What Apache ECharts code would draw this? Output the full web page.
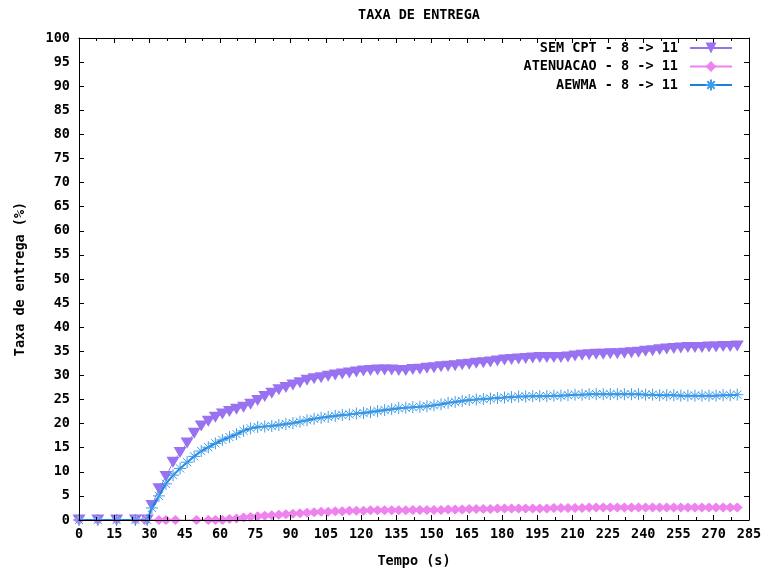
<!DOCTYPE html>
<html>
<head>
<meta charset="utf-8">
<title>TAXA DE ENTREGA</title>
<script src="https://cdn.jsdelivr.net/npm/echarts@6/dist/echarts.min.js"></script>
<style>
  html, body { margin: 0; padding: 0; background: #fff; }
  #chart { width: 765px; height: 570px; }
</style>
</head>
<body>
<div id="chart"></div>
<script>
// Sample times (s) for SEM CPT and AEWMA
const timesMain = [0, 8, 16, 24, 29,
  31, 34, 37, 40, 43, 46, 49, 52, 55, 58, 61, 64, 67, 70, 73, 76, 79, 82, 85, 88,
  91, 94, 97, 100, 103, 106, 109, 112, 115, 118, 121, 124, 127, 130, 133, 136, 139, 142, 145, 148,
  151, 154, 157, 160, 163, 166, 169, 172, 175, 178, 181, 184, 187, 190, 193, 196, 199, 202, 205, 208,
  211, 214, 217, 220, 223, 226, 229, 232, 235, 238, 241, 244, 247, 250, 253, 256, 259, 262, 265, 268,
  271, 274, 277, 280];

// Delivery rate (%) without CPT
const semCpt = [0, 0, 0, 0, 0,
  3, 6.5, 9, 12, 14, 16, 18, 19.5, 20.5, 21.3, 22, 22.5, 23, 23.4, 24, 24.8, 25.6, 26.3, 27, 27.5,
  28, 28.5, 29, 29.3, 29.5, 29.8, 30.1, 30.3, 30.5, 30.7, 30.9, 31, 31.1, 31.1, 31.1, 31, 31, 31.2, 31.3, 31.5,
  31.6, 31.8, 31.9, 32, 32.2, 32.3, 32.5, 32.6, 32.8, 33, 33.2, 33.3, 33.4, 33.5, 33.6, 33.7, 33.7, 33.7, 33.7, 33.8,
  34, 34.2, 34.3, 34.4, 34.4, 34.5, 34.5, 34.6, 34.7, 34.8, 35, 35.1, 35.3, 35.5, 35.6, 35.7, 35.8, 35.8, 35.8, 35.9,
  35.9, 36, 36, 36.1];

// Delivery rate (%) with AEWMA
const aewma = [0, 0, 0, 0, 0,
  2.5, 5, 7.5, 9.3, 10.7, 12, 13.2, 14.3, 15.1, 15.9, 16.6, 17.2, 17.8, 18.5, 19, 19.3, 19.4, 19.5, 19.7, 19.9,
  20.1, 20.4, 20.7, 21, 21.2, 21.4, 21.6, 21.8, 21.9, 22.1, 22.2, 22.4, 22.6, 22.8, 23, 23.2, 23.3, 23.4, 23.5, 23.6,
  23.8, 24, 24.3, 24.5, 24.7, 24.9, 25, 25.1, 25.2, 25.3, 25.4, 25.5, 25.6, 25.6, 25.7, 25.7, 25.7, 25.8, 25.8, 25.9,
  26, 26, 26.1, 26.1, 26.1, 26.1, 26.1, 26.1, 26.1, 26.1, 26, 26, 25.9, 25.9, 25.9, 25.8, 25.8, 25.8, 25.8, 25.8,
  25.8, 25.9, 25.9, 26];

// Sample times (s) for ATENUACAO
const timesAten = [0, 8, 16, 24, 28, 34, 37, 41, 50, 55, 58,
  61, 64, 67, 70, 73, 76, 79, 82, 85, 88, 91, 94, 97, 100, 103, 106, 109, 112, 115, 118,
  121, 124, 127, 130, 133, 136, 139, 142, 145, 148, 151, 154, 157, 160, 163, 166, 169, 172, 175, 178,
  181, 184, 187, 190, 193, 196, 199, 202, 205, 208, 211, 214, 217, 220, 223, 226, 229, 232, 235, 238,
  241, 244, 247, 250, 253, 256, 259, 262, 265, 268, 271, 274, 277, 280];

// Delivery rate (%) with attenuation
const atenuacao = [0, 0, 0, 0, 0, 0, 0, 0, 0, 0, 0,
  0, 0.2, 0.3, 0.5, 0.6, 0.8, 0.9, 1.0, 1.1, 1.2, 1.3, 1.4, 1.5, 1.6, 1.7, 1.7, 1.8, 1.8, 1.9, 1.9,
  1.9, 2.0, 2.0, 2.0, 2.0, 2.0, 2.0, 2.1, 2.1, 2.1, 2.1, 2.1, 2.2, 2.2, 2.2, 2.3, 2.3, 2.3, 2.3, 2.4,
  2.4, 2.4, 2.4, 2.4, 2.4, 2.4, 2.4, 2.5, 2.5, 2.5, 2.5, 2.5, 2.6, 2.6, 2.6, 2.6, 2.6, 2.6, 2.6, 2.6,
  2.6, 2.6, 2.6, 2.6, 2.6, 2.6, 2.6, 2.6, 2.6, 2.6, 2.6, 2.6, 2.6, 2.6];

const seriesNames = ['SEM CPT - 8 -> 11', 'ATENUACAO - 8 -> 11', 'AEWMA - 8 -> 11'];
const xTicks = { min: 0, max: 285, step: 15 };
const yTicks = { min: 0, max: 100, step: 5 };

const pairs = (xs, ys) => xs.map((x, i) => [x, ys[i]]);

const FONT = 'DejaVu Sans Mono';
const labelStyle = { fontFamily: FONT, fontWeight: 'bold', fontSize: 13.5, color: '#000' };

const PURPLE = '#9872f0';
const PINK = '#ee82ee';
const BLUE = '#1c7fe0';
const STAR = 'path://M5 0 L5 10 M0 5 L10 5 M1.6 1.6 L8.4 8.4 M1.6 8.4 L8.4 1.6';

const chart = echarts.init(document.getElementById('chart'), null, { renderer: 'canvas' });

const axisCommon = {
  axisLine: { show: true, onZero: false, lineStyle: { color: '#000', width: 1 } },
  axisTick: { show: true, inside: true, length: 5, lineStyle: { color: '#000' } },
  splitLine: { show: false }
};

chart.setOption({
  animation: false,
  backgroundColor: '#fff',
  title: {
    text: 'TAXA DE ENTREGA',
    left: 414, top: 3, textAlign: 'center',
    textStyle: labelStyle
  },
  grid: { left: 79, right: 16, top: 38, bottom: 50, containLabel: false, outerBoundsMode: 'none' },
  legend: {
    orient: 'vertical',
    right: 27, top: 36,
    itemGap: 4.5,
    itemWidth: 42, itemHeight: 13.5,
    align: 'right',
    data: seriesNames,
    textStyle: Object.assign({}, labelStyle, { width: 180, align: 'right', padding: [0, 7, 0, 0] })
  },
  xAxis: [
    Object.assign({}, axisCommon, {
      type: 'value', position: 'bottom', z: 5,
      min: xTicks.min, max: xTicks.max, interval: xTicks.step,
      minorTick: { show: true, splitNumber: 2, length: 3, lineStyle: { color: '#000' } },
      axisLabel: Object.assign({}, labelStyle, { margin: 7 }),
      name: 'Tempo (s)', nameLocation: 'middle', nameGap: 34,
      nameTextStyle: labelStyle
    }),
    Object.assign({}, axisCommon, {
      type: 'value', position: 'top',
      min: xTicks.min, max: xTicks.max, interval: xTicks.step,
      minorTick: { show: true, splitNumber: 2, length: 3, lineStyle: { color: '#000' } },
      axisLabel: { show: false }
    })
  ],
  yAxis: [
    Object.assign({}, axisCommon, {
      type: 'value', position: 'left', z: 5,
      min: yTicks.min, max: yTicks.max, interval: yTicks.step,
      axisLabel: Object.assign({}, labelStyle, { margin: 9 }),
      name: 'Taxa de entrega (%)', nameLocation: 'middle', nameGap: 52,
      nameRotate: 90,
      nameTextStyle: labelStyle
    }),
    Object.assign({}, axisCommon, {
      type: 'value', position: 'right',
      min: yTicks.min, max: yTicks.max, interval: yTicks.step,
      axisLabel: { show: false }
    })
  ],
  series: [
    {
      name: seriesNames[0], type: 'line',
      data: pairs(timesMain, semCpt),
      symbol: 'triangle', symbolRotate: 180, symbolSize: [13, 11],
      showAllSymbol: true,
      lineStyle: { color: PURPLE, width: 1 },
      itemStyle: { color: PURPLE, borderWidth: 0 },
      z: 2
    },
    {
      name: seriesNames[1], type: 'line',
      data: pairs(timesAten, atenuacao),
      symbol: 'diamond', symbolSize: [11, 10],
      showAllSymbol: true,
      lineStyle: { color: PINK, width: 1 },
      itemStyle: { color: PINK, borderWidth: 0 },
      z: 3
    },
    {
      name: seriesNames[2], type: 'line',
      data: pairs(timesMain, aewma),
      symbol: STAR, symbolSize: 12,
      showAllSymbol: true,
      lineStyle: { color: BLUE, width: 2 },
      itemStyle: { color: 'rgba(0,0,0,0)', borderColor: '#3d9be8', borderWidth: 1 },
      z: 4
    }
  ]
});
</script>
</body>
</html>
